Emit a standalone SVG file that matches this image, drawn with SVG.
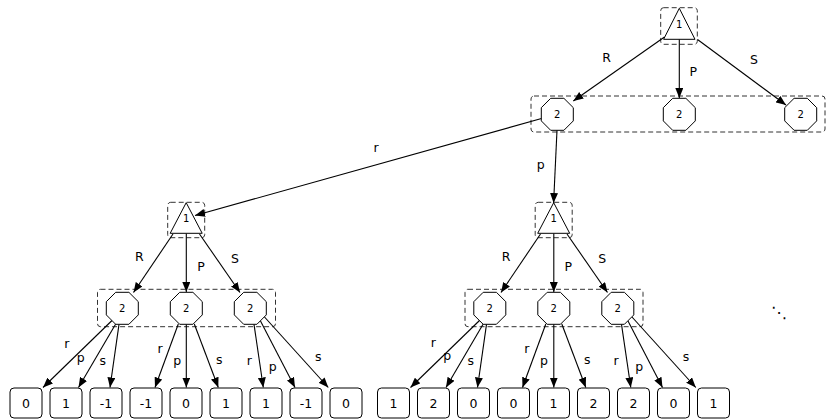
<svg xmlns="http://www.w3.org/2000/svg" width="826" height="419" viewBox="0 0 826 419">
<style>
.bg{fill:#fff}
.grp{fill:none;stroke:#333;stroke-width:1;stroke-dasharray:5,3}
.sh{fill:#fff;stroke:#000;stroke-width:1}
.e{fill:none;stroke:#000;stroke-width:1.1;marker-end:url(#ah)}
.t{font-family:"DejaVu Sans",sans-serif;fill:#000;text-anchor:middle}
.n{font-size:10px}
.lf{font-size:12.5px}
.el{font-size:12.5px}
</style>
<defs>
<marker id="ah" viewBox="0 0 10 8" refX="10" refY="4" markerWidth="10" markerHeight="8" markerUnits="userSpaceOnUse" orient="auto">
<path d="M0,0 L10,4 L0,8 z" fill="#000"/>
</marker>
</defs>
<rect class="bg" x="0" y="0" width="826" height="419"/>

<g id="info-sets">
<rect class="grp" x="660.7" y="7.7" width="36.6" height="36.6" rx="3"/>
<rect class="grp" x="531" y="96" width="294" height="36" rx="3"/>
<rect class="grp" x="167.7" y="202.3" width="37" height="35.4" rx="3"/>
<rect class="grp" x="97.5" y="289.3" width="178" height="37.4" rx="3"/>
<rect class="grp" x="535.2" y="202.3" width="37" height="35.4" rx="3"/>
<rect class="grp" x="465" y="289.3" width="178" height="37.4" rx="3"/>
</g>

<g id="connectors">
<line class="e" x1="664.5" y1="37" x2="573.3" y2="101"/>
<line class="e" x1="679.3" y1="39.3" x2="679.3" y2="98"/>
<line class="e" x1="697.5" y1="39.5" x2="786" y2="105"/>
<line class="e" x1="541.5" y1="118.5" x2="195" y2="215.5"/>
<line class="e" x1="557" y1="130.3" x2="553.6" y2="203"/>

<line class="e" x1="173" y1="234" x2="133.5" y2="292.5"/>
<line class="e" x1="186.3" y1="233.5" x2="186.3" y2="292"/>
<line class="e" x1="199.5" y1="234" x2="240" y2="292.5"/>
<line class="e" x1="540.5" y1="234" x2="501" y2="292.5"/>
<line class="e" x1="553.8" y1="233.5" x2="553.8" y2="292"/>
<line class="e" x1="567" y1="234" x2="607.5" y2="292.5"/>

<line class="e" x1="112" y1="320.5" x2="43" y2="387.5"/>
<line class="e" x1="115.7" y1="324" x2="78.5" y2="387.5"/>
<line class="e" x1="119" y1="324.3" x2="110" y2="387.5"/>
<line class="e" x1="178.3" y1="324" x2="155" y2="387.5"/>
<line class="e" x1="186.3" y1="324.3" x2="186.3" y2="387.5"/>
<line class="e" x1="194.3" y1="324" x2="218.3" y2="387.5"/>
<line class="e" x1="254" y1="324.3" x2="263.3" y2="387.5"/>
<line class="e" x1="260.5" y1="321" x2="295" y2="387.5"/>
<line class="e" x1="264.5" y1="317" x2="328.3" y2="387.5"/>

<line class="e" x1="479.5" y1="320.5" x2="410.5" y2="387.5"/>
<line class="e" x1="483.2" y1="324" x2="446" y2="387.5"/>
<line class="e" x1="486.5" y1="324.3" x2="477.5" y2="387.5"/>
<line class="e" x1="545.8" y1="324" x2="522.5" y2="387.5"/>
<line class="e" x1="553.8" y1="324.3" x2="553.8" y2="387.5"/>
<line class="e" x1="561.8" y1="324" x2="585.8" y2="387.5"/>
<line class="e" x1="621.5" y1="324.3" x2="630.8" y2="387.5"/>
<line class="e" x1="628" y1="321" x2="662.5" y2="387.5"/>
<line class="e" x1="632" y1="317" x2="695.8" y2="387.5"/>
</g>

<g id="edge-labels" class="t el">
<text x="606.7" y="61.7">R</text>
<text x="693.3" y="76">P</text>
<text x="754" y="64">S</text>
<text x="376" y="151.7">r</text>
<text x="540.7" y="168.7">p</text>
<text x="139.3" y="260.7">R</text>
<text x="201" y="270.7">P</text>
<text x="235" y="262.7">S</text>
<text x="506" y="260.7">R</text>
<text x="568.3" y="270.7">P</text>
<text x="602.3" y="262.7">S</text>
<text x="66.7" y="348.3">r</text>
<text x="80.7" y="361.5">p</text>
<text x="102.7" y="365">s</text>
<text x="160" y="353.3">r</text>
<text x="177.3" y="364.5">p</text>
<text x="219.3" y="364.3">s</text>
<text x="249.3" y="365">r</text>
<text x="272.7" y="370.5">p</text>
<text x="318.3" y="360.7">s</text>
<text x="433.3" y="347.3">r</text>
<text x="447.3" y="360.3">p</text>
<text x="470.7" y="365">s</text>
<text x="526.7" y="353.3">r</text>
<text x="544" y="365">p</text>
<text x="587.3" y="364">s</text>
<text x="616" y="365">r</text>
<text x="639.3" y="371">p</text>
<text x="686" y="360.7">s</text>
</g>

<g id="root"><polygon class="sh" points="679.3,8.3 695,39.3 663.6,39.3"/><text class="t n" x="679.3" y="27.6">1</text></g>
<g id="p2a"><polygon class="sh" points="550.7,98.3 563.9,98.3 573.3,107.7 573.3,120.9 563.9,130.3 550.7,130.3 541.3,120.9 541.3,107.7"/><text class="t n" x="557.3" y="118">2</text></g>
<g id="p2b"><polygon class="sh" points="672.7,98.3 685.9,98.3 695.3,107.7 695.3,120.9 685.9,130.3 672.7,130.3 663.3,120.9 663.3,107.7"/><text class="t n" x="679.3" y="118">2</text></g>
<g id="p2c"><polygon class="sh" points="794.1,98.3 807.3,98.3 816.7,107.7 816.7,120.9 807.3,130.3 794.1,130.3 784.7,120.9 784.7,107.7"/><text class="t n" x="800.7" y="118">2</text></g>

<g id="p1L"><polygon class="sh" points="186.2,202.7 202.2,233.3 170.2,233.3"/><text class="t n" x="186.2" y="222">1</text></g>
<g id="p1R"><polygon class="sh" points="553.7,202.7 569.7,233.3 537.7,233.3"/><text class="t n" x="553.7" y="222">1</text></g>

<g id="L2a"><polygon class="sh" points="115.7,292.3 128.9,292.3 138.3,301.7 138.3,314.9 128.9,324.3 115.7,324.3 106.3,314.9 106.3,301.7"/><text class="t n" x="122.3" y="312">2</text></g>
<g id="L2b"><polygon class="sh" points="179.7,292.3 192.9,292.3 202.3,301.7 202.3,314.9 192.9,324.3 179.7,324.3 170.3,314.9 170.3,301.7"/><text class="t n" x="186.3" y="312">2</text></g>
<g id="L2c"><polygon class="sh" points="243.7,292.3 256.9,292.3 266.3,301.7 266.3,314.9 256.9,324.3 243.7,324.3 234.3,314.9 234.3,301.7"/><text class="t n" x="250.3" y="312">2</text></g>
<g id="R2a"><polygon class="sh" points="483.2,292.3 496.4,292.3 505.8,301.7 505.8,314.9 496.4,324.3 483.2,324.3 473.8,314.9 473.8,301.7"/><text class="t n" x="489.8" y="312">2</text></g>
<g id="R2b"><polygon class="sh" points="547.2,292.3 560.4,292.3 569.8,301.7 569.8,314.9 560.4,324.3 547.2,324.3 537.8,314.9 537.8,301.7"/><text class="t n" x="553.8" y="312">2</text></g>
<g id="R2c"><polygon class="sh" points="611.2,292.3 624.4,292.3 633.8,301.7 633.8,314.9 624.4,324.3 611.2,324.3 601.8,314.9 601.8,301.7"/><text class="t n" x="617.8" y="312">2</text></g>

<g id="leafL1"><rect class="sh" x="10" y="388" width="32" height="30" rx="4"/><text class="t lf" x="26" y="407.5">0</text></g>
<g id="leafL2"><rect class="sh" x="50" y="388" width="32" height="30" rx="4"/><text class="t lf" x="66" y="407.5">1</text></g>
<g id="leafL3"><rect class="sh" x="90" y="388" width="32" height="30" rx="4"/><text class="t lf" x="106" y="407.5">-1</text></g>
<g id="leafL4"><rect class="sh" x="130" y="388" width="32" height="30" rx="4"/><text class="t lf" x="146" y="407.5">-1</text></g>
<g id="leafL5"><rect class="sh" x="170" y="388" width="32" height="30" rx="4"/><text class="t lf" x="186" y="407.5">0</text></g>
<g id="leafL6"><rect class="sh" x="210" y="388" width="32" height="30" rx="4"/><text class="t lf" x="226" y="407.5">1</text></g>
<g id="leafL7"><rect class="sh" x="250" y="388" width="32" height="30" rx="4"/><text class="t lf" x="266" y="407.5">1</text></g>
<g id="leafL8"><rect class="sh" x="290" y="388" width="32" height="30" rx="4"/><text class="t lf" x="306" y="407.5">-1</text></g>
<g id="leafL9"><rect class="sh" x="330" y="388" width="32" height="30" rx="4"/><text class="t lf" x="346" y="407.5">0</text></g>
<g id="leafR1"><rect class="sh" x="377.5" y="388" width="32" height="30" rx="4"/><text class="t lf" x="393.5" y="407.5">1</text></g>
<g id="leafR2"><rect class="sh" x="417.5" y="388" width="32" height="30" rx="4"/><text class="t lf" x="433.5" y="407.5">2</text></g>
<g id="leafR3"><rect class="sh" x="457.5" y="388" width="32" height="30" rx="4"/><text class="t lf" x="473.5" y="407.5">0</text></g>
<g id="leafR4"><rect class="sh" x="497.5" y="388" width="32" height="30" rx="4"/><text class="t lf" x="513.5" y="407.5">0</text></g>
<g id="leafR5"><rect class="sh" x="537.5" y="388" width="32" height="30" rx="4"/><text class="t lf" x="553.5" y="407.5">1</text></g>
<g id="leafR6"><rect class="sh" x="577.5" y="388" width="32" height="30" rx="4"/><text class="t lf" x="593.5" y="407.5">2</text></g>
<g id="leafR7"><rect class="sh" x="617.5" y="388" width="32" height="30" rx="4"/><text class="t lf" x="633.5" y="407.5">2</text></g>
<g id="leafR8"><rect class="sh" x="657.5" y="388" width="32" height="30" rx="4"/><text class="t lf" x="673.5" y="407.5">0</text></g>
<g id="leafR9"><rect class="sh" x="697.5" y="388" width="32" height="30" rx="4"/><text class="t lf" x="713.5" y="407.5">1</text></g>

<g id="ellipsis"><text class="t" x="779" y="318" font-size="16">⋱</text></g>
</svg>
